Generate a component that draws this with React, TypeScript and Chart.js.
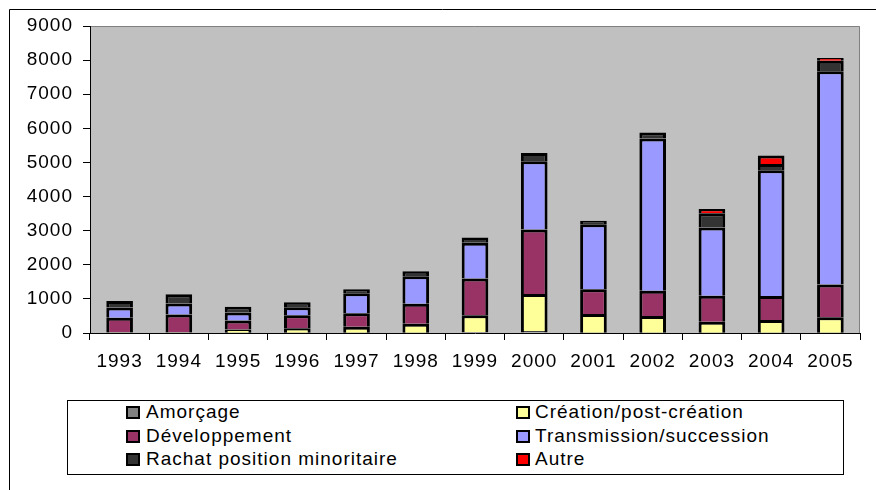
import React, { useEffect, useRef } from "react";
import { Chart, registerables } from "chart.js";

Chart.register(...registerables);

const years = ["1993", "1994", "1995", "1996", "1997", "1998", "1999", "2000", "2001", "2002", "2003", "2004", "2005"];
const amorcage = [10, 10, 10, 10, 10, 10, 30, 60, 10, 10, 10, 10, 10];
const creation = [15, 15, 90, 130, 170, 260, 490, 1080, 545, 490, 320, 370, 450];
const developpement = [420, 515, 270, 380, 400, 585, 1080, 1895, 725, 740, 760, 705, 965];
const transmission = [300, 322, 234, 234, 585, 810, 1043, 2000, 1911, 4460, 2000, 3687, 6252];
const rachat = [190, 275, 165, 145, 120, 145, 160, 245, 100, 180, 420, 180, 305];
const autre = [0, 0, 0, 0, 0, 0, 0, 0, 0, 0, 125, 250, 80];

const seriesLabels = [
  "Amorçage",
  "Création/post-création",
  "Développement",
  "Transmission/succession",
  "Rachat position minoritaire",
  "Autre",
];
const seriesColors = ["#808080", "#FFFF99", "#993366", "#9999FF", "#333333", "#FF0000"];
const seriesValues = [amorcage, creation, developpement, transmission, rachat, autre];

const yMin = 0;
const yMax = 9000;
const yStep = 1000;

const FONT = "'Liberation Sans', Arial, sans-serif";

const framePlugin = {
  id: "frame",
  beforeDraw(chart: any) {
    const { ctx, chartArea: a, width, height } = chart;
    ctx.save();
    ctx.fillStyle = "#ffffff";
    ctx.fillRect(0, 0, width, height);
    ctx.fillStyle = "#C0C0C0";
    ctx.fillRect(a.left, a.top, a.right - a.left, a.bottom - a.top);
    ctx.strokeStyle = "#808080";
    ctx.lineWidth = 1;
    ctx.beginPath();
    ctx.moveTo(a.left, a.top + 0.5);
    ctx.lineTo(a.right - 0.5, a.top + 0.5);
    ctx.lineTo(a.right - 0.5, a.bottom);
    ctx.stroke();
    ctx.strokeStyle = "#000000";
    ctx.beginPath();
    ctx.moveTo(9.5, height);
    ctx.lineTo(9.5, 9.5);
    ctx.lineTo(width, 9.5);
    ctx.stroke();
    ctx.restore();
    try {
      (ctx as any).letterSpacing = "1px";
    } catch (e) {}
  },
};

export default function App() {
  const ref = useRef<HTMLCanvasElement | null>(null);

  useEffect(() => {
    if (!ref.current) return;
    const chart = new Chart(ref.current, {
      type: "bar",
      data: {
        labels: years,
        datasets: seriesLabels.map((label, i) => ({
          label,
          data: seriesValues[i],
          backgroundColor: seriesColors[i],
          borderColor: "#000000",
          borderWidth: 3,
          barPercentage: 0.45,
          categoryPercentage: 1,
        })),
      },
      options: {
        animation: false,
        responsive: false,
        devicePixelRatio: 1,
        layout: { padding: { left: 0, top: 26, right: 16, bottom: 0 } },
        plugins: {
          legend: { display: false },
          tooltip: { enabled: false },
        },
        scales: {
          x: {
            stacked: true,
            grid: { display: true, drawOnChartArea: false, drawTicks: true, tickLength: 7, color: "#000000", offset: true },
            border: { display: true, color: "#000000", width: 1 },
            ticks: {
              color: "#000000",
              font: { family: FONT, size: 19 },
              padding: 10,
              maxRotation: 0,
              autoSkip: false,
            },
            afterFit: (scale: any) => {
              scale.height = 157;
            },
          },
          y: {
            stacked: true,
            min: yMin,
            max: yMax,
            grid: { display: true, drawOnChartArea: false, drawTicks: true, tickLength: 7, color: "#000000" },
            border: { display: true, color: "#000000", width: 1 },
            ticks: {
              stepSize: yStep,
              color: "#000000",
              font: { family: FONT, size: 19 },
              padding: 10,
              callback: (value: any) => String(value),
            },
            afterFit: (scale: any) => {
              scale.width = 90;
            },
          },
        },
      },
      plugins: [framePlugin],
    });
    return () => chart.destroy();
  }, []);

  const rowCenters = [412, 436, 459];
  const markerLeft = [126, 516];
  const textLeft = [146, 535];

  return (
    <div style={{ position: "absolute", left: 0, top: 0, width: 876, height: 490, overflow: "hidden", background: "#fff" }}>
      <canvas ref={ref} width={876} height={490} style={{ position: "absolute", left: 0, top: 0, width: 876, height: 490 }} />
      <div
        style={{
          position: "absolute",
          left: 67,
          top: 400,
          width: 777,
          height: 75,
          border: "1px solid #000",
          boxSizing: "border-box",
          background: "#fff",
        }}
      />
      {seriesLabels.map((label, i) => {
        const col = i % 2;
        const row = Math.floor(i / 2);
        const cy = rowCenters[row];
        return (
          <React.Fragment key={label}>
            <div
              style={{
                position: "absolute",
                left: markerLeft[col],
                top: cy - 6,
                width: 14,
                height: 13,
                boxSizing: "border-box",
                border: "2px solid #000",
                background: seriesColors[i],
              }}
            />
            <div
              style={{
                position: "absolute",
                left: textLeft[col],
                top: cy - 11,
                height: 22,
                lineHeight: "22px",
                fontFamily: FONT,
                fontSize: 19,
                letterSpacing: "1px",
                color: "#000",
                whiteSpace: "nowrap",
              }}
            >
              {label}
            </div>
          </React.Fragment>
        );
      })}
    </div>
  );
}
